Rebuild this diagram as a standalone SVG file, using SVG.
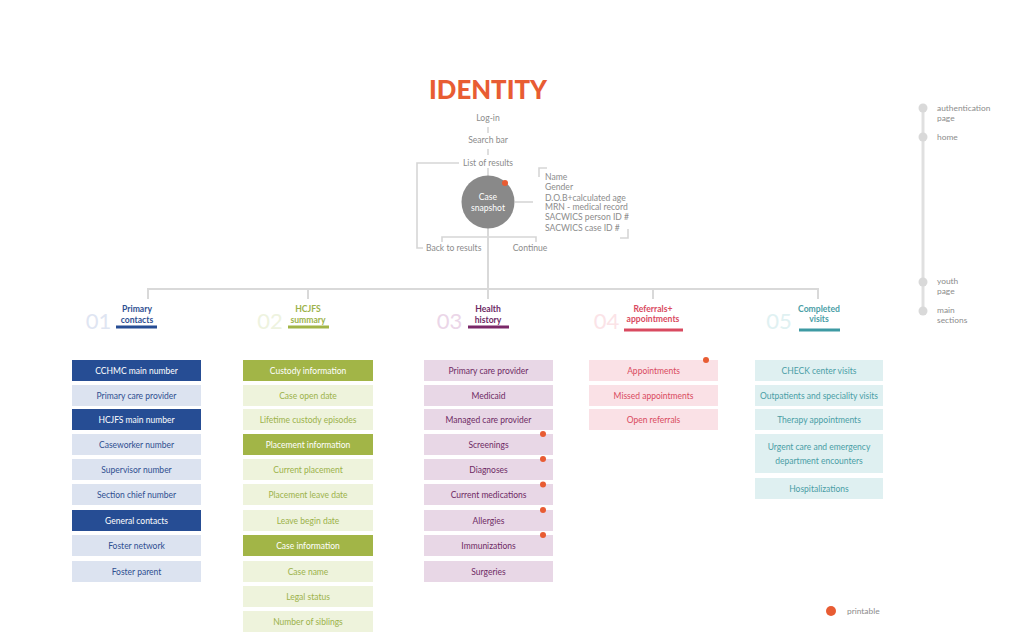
<svg xmlns="http://www.w3.org/2000/svg" width="1026" height="644" viewBox="0 0 1026 644">
<style>
text{font-family:Lato,"Open Sans","Liberation Sans",sans-serif}
.g{fill:#8c8c8c;font-size:8.6px}
.lg{fill:#8c8c8c;font-size:8.4px}
.c{text-anchor:middle}
.bt{font-size:8.5px;text-anchor:middle}
.ht{font-size:8.6px;font-weight:bold;text-anchor:middle}
.num{font-size:22px;text-anchor:middle}
.ln{stroke:#d6d6d6;fill:none;stroke-width:1.6}
.tr{stroke:#d9d9d9;fill:none;stroke-width:2}
.dot{fill:#e85c33}
.b1{fill:#dce3f0}.h1{fill:#264d94}.t1{fill:#2f4f91}
.b2{fill:#eef3dc}.h2{fill:#a2b547}.t2{fill:#9cb24a}
.b3{fill:#e8d7e6}.t3{fill:#6e2a64}
.b4{fill:#fae1e6}.t4{fill:#d94a60}
.b5{fill:#dff0f1}.t5{fill:#4a9ea6}
.w{fill:#ffffff}
</style>
<rect width="1026" height="644" fill="#ffffff"/>

<g id="connectors">
  <line class="ln" x1="488" y1="127" x2="488" y2="133"/>
  <line class="ln" x1="488" y1="149" x2="488" y2="155"/>
  <line class="ln" x1="488" y1="168" x2="488" y2="176"/>
  <path class="ln" d="M459,163 H417 V248 H423"/>
  <line class="ln" x1="515" y1="202" x2="533" y2="202"/>
  <path class="ln" d="M547,168 H539 V177"/>
  <path class="ln" d="M620,238 H628 V229"/>
  <path class="ln" d="M442,242 V237 H536 V242"/>
  <line class="tr" x1="488" y1="228" x2="488" y2="299"/>
  <path class="tr" d="M148,299 V289 H818 V299"/>
  <line class="tr" x1="308" y1="289" x2="308" y2="299"/>
  <line class="tr" x1="653" y1="289" x2="653" y2="299"/>
</g>

<g id="title">
  <text x="488" y="99" text-anchor="middle" font-size="27" font-weight="900" fill="#e85c33" textLength="118" lengthAdjust="spacingAndGlyphs">IDENTITY</text>
</g>

<g id="login"><text class="g c" x="488" y="121">Log-in</text></g>
<g id="search-bar"><text class="g c" x="488" y="143">Search bar</text></g>
<g id="list-of-results"><text class="g c" x="488" y="166">List of results</text></g>
<g id="case-snapshot">
  <circle cx="488" cy="202" r="26.5" fill="#898989"/>
  <text class="c" x="488" y="200" font-size="8.6" fill="#ffffff">Case</text>
  <text class="c" x="488" y="211" font-size="8.6" fill="#ffffff">snapshot</text>
  <circle class="dot" cx="505" cy="183" r="3"/>
</g>
<g id="snapshot-fields">
  <text class="g" x="545" y="180">Name</text>
  <text class="g" x="545" y="190">Gender</text>
  <text class="g" x="545" y="201">D.O.B+calculated age</text>
  <text class="g" x="545" y="210">MRN - medical record</text>
  <text class="g" x="545" y="220">SACWICS person ID #</text>
  <text class="g" x="545" y="231">SACWICS case ID #</text>
</g>
<g id="back-to-results"><text class="g" x="426" y="251">Back to results</text></g>
<g id="continue"><text class="g c" x="530" y="251">Continue</text></g>

<g id="timeline">
  <line x1="923" y1="108" x2="923" y2="311" stroke="#e0e0e0" stroke-width="3"/>
  <circle cx="923" cy="108" r="4.5" fill="#d9d9d9"/>
  <circle cx="923" cy="137" r="4.5" fill="#d9d9d9"/>
  <circle cx="923" cy="282" r="4.5" fill="#d9d9d9"/>
  <circle cx="923" cy="311" r="4.5" fill="#d9d9d9"/>
  <text class="lg" x="937" y="111">authentication</text>
  <text class="lg" x="937" y="121">page</text>
  <text class="lg" x="937" y="140">home</text>
  <text class="lg" x="937" y="284">youth</text>
  <text class="lg" x="937" y="294">page</text>
  <text class="lg" x="937" y="313">main</text>
  <text class="lg" x="937" y="323">sections</text>
</g>

<g id="legend">
  <circle class="dot" cx="831" cy="611" r="5"/>
  <text class="lg" x="847" y="614">printable</text>
</g>

<!-- Section headers -->
<g id="section-01">
  <text class="num" x="98.5" y="329" fill="#dfe5f2">01</text>
  <text class="ht t1" x="137" y="312">Primary</text>
  <text class="ht t1" x="137" y="323">contacts</text>
  <rect x="116" y="325.5" width="41" height="3" fill="#264d94"/>
</g>
<g id="section-02">
  <text class="num" x="270" y="329" fill="#eef3df">02</text>
  <text class="ht t2" x="308" y="312">HCJFS</text>
  <text class="ht t2" x="308" y="323">summary</text>
  <rect x="288" y="325.5" width="41" height="3" fill="#a2b547"/>
</g>
<g id="section-03">
  <text class="num" x="449.5" y="329" fill="#ebd6e8">03</text>
  <text class="ht t3" x="488" y="312">Health</text>
  <text class="ht t3" x="488" y="323">history</text>
  <rect x="468" y="325.5" width="41" height="3" fill="#7a2868"/>
</g>
<g id="section-04">
  <text class="num" x="606.5" y="329" fill="#fbe3e7">04</text>
  <text class="ht t4" x="653" y="312">Referrals+</text>
  <text class="ht t4" x="653" y="322">appointments</text>
  <rect x="624" y="328.5" width="59" height="3" fill="#d94a60"/>
</g>
<g id="section-05">
  <text class="num" x="779" y="329" fill="#e0f1f2">05</text>
  <text class="ht t5" x="819" y="312">Completed</text>
  <text class="ht t5" x="819" y="322">visits</text>
  <rect x="799" y="328.5" width="41" height="3" fill="#3e9aa3"/>
</g>

<!-- Column 1 -->
<g id="c1-cchmc"><rect class="h1" x="72" y="360" width="129" height="21"/><text class="bt w" x="136.5" y="373.5">CCHMC main number</text></g>
<g id="c1-pcp"><rect class="b1" x="72" y="385" width="129" height="21"/><text class="bt t1" x="136.5" y="398.5">Primary care provider</text></g>
<g id="c1-hcjfs"><rect class="h1" x="72" y="409" width="129" height="21"/><text class="bt w" x="136.5" y="422.5">HCJFS main number</text></g>
<g id="c1-caseworker"><rect class="b1" x="72" y="434" width="129" height="21"/><text class="bt t1" x="136.5" y="447.5">Caseworker number</text></g>
<g id="c1-supervisor"><rect class="b1" x="72" y="459" width="129" height="21"/><text class="bt t1" x="136.5" y="472.5">Supervisor number</text></g>
<g id="c1-section-chief"><rect class="b1" x="72" y="484" width="129" height="21"/><text class="bt t1" x="136.5" y="497.5">Section chief number</text></g>
<g id="c1-general"><rect class="h1" x="72" y="510" width="129" height="21"/><text class="bt w" x="136.5" y="523.5">General contacts</text></g>
<g id="c1-foster-network"><rect class="b1" x="72" y="535" width="129" height="21"/><text class="bt t1" x="136.5" y="548.5">Foster network</text></g>
<g id="c1-foster-parent"><rect class="b1" x="72" y="561" width="129" height="21"/><text class="bt t1" x="136.5" y="574.5">Foster parent</text></g>

<!-- Column 2 -->
<g id="c2-custody"><rect class="h2" x="243" y="360" width="130" height="21"/><text class="bt w" x="308" y="373.5">Custody information</text></g>
<g id="c2-open"><rect class="b2" x="243" y="385" width="130" height="21"/><text class="bt t2" x="308" y="398.5">Case open date</text></g>
<g id="c2-lifetime"><rect class="b2" x="243" y="409" width="130" height="21"/><text class="bt t2" x="308" y="422.5">Lifetime custody episodes</text></g>
<g id="c2-placement"><rect class="h2" x="243" y="434" width="130" height="21"/><text class="bt w" x="308" y="447.5">Placement information</text></g>
<g id="c2-current"><rect class="b2" x="243" y="459" width="130" height="21"/><text class="bt t2" x="308" y="472.5">Current placement</text></g>
<g id="c2-leave"><rect class="b2" x="243" y="484" width="130" height="21"/><text class="bt t2" x="308" y="497.5">Placement leave date</text></g>
<g id="c2-begin"><rect class="b2" x="243" y="510" width="130" height="21"/><text class="bt t2" x="308" y="523.5">Leave begin date</text></g>
<g id="c2-case-info"><rect class="h2" x="243" y="535" width="130" height="21"/><text class="bt w" x="308" y="548.5">Case information</text></g>
<g id="c2-case-name"><rect class="b2" x="243" y="561" width="130" height="21"/><text class="bt t2" x="308" y="574.5">Case name</text></g>
<g id="c2-legal"><rect class="b2" x="243" y="586" width="130" height="21"/><text class="bt t2" x="308" y="599.5">Legal status</text></g>
<g id="c2-siblings"><rect class="b2" x="243" y="611" width="130" height="21"/><text class="bt t2" x="308" y="624.5">Number of siblings</text></g>

<!-- Column 3 -->
<g id="c3-pcp"><rect class="b3" x="424" y="360" width="129" height="21"/><text class="bt t3" x="488.5" y="373.5">Primary care provider</text></g>
<g id="c3-medicaid"><rect class="b3" x="424" y="385" width="129" height="21"/><text class="bt t3" x="488.5" y="398.5">Medicaid</text></g>
<g id="c3-managed"><rect class="b3" x="424" y="409" width="129" height="21"/><text class="bt t3" x="488.5" y="422.5">Managed care provider</text></g>
<g id="c3-screenings"><rect class="b3" x="424" y="434" width="129" height="21"/><text class="bt t3" x="488.5" y="447.5">Screenings</text><circle class="dot" cx="543" cy="434" r="3"/></g>
<g id="c3-diagnoses"><rect class="b3" x="424" y="459" width="129" height="21"/><text class="bt t3" x="488.5" y="472.5">Diagnoses</text><circle class="dot" cx="543" cy="459" r="3"/></g>
<g id="c3-medications"><rect class="b3" x="424" y="484" width="129" height="21"/><text class="bt t3" x="488.5" y="497.5">Current medications</text><circle class="dot" cx="543" cy="484.5" r="3"/></g>
<g id="c3-allergies"><rect class="b3" x="424" y="510" width="129" height="21"/><text class="bt t3" x="488.5" y="523.5">Allergies</text><circle class="dot" cx="543" cy="510" r="3"/></g>
<g id="c3-immunizations"><rect class="b3" x="424" y="535" width="129" height="21"/><text class="bt t3" x="488.5" y="548.5">Immunizations</text><circle class="dot" cx="543" cy="535" r="3"/></g>
<g id="c3-surgeries"><rect class="b3" x="424" y="561" width="129" height="21"/><text class="bt t3" x="488.5" y="574.5">Surgeries</text></g>

<!-- Column 4 -->
<g id="c4-appointments"><rect class="b4" x="589" y="360" width="129" height="21"/><text class="bt t4" x="653.5" y="373.5">Appointments</text><circle class="dot" cx="706" cy="360" r="3"/></g>
<g id="c4-missed"><rect class="b4" x="589" y="385" width="129" height="21"/><text class="bt t4" x="653.5" y="398.5">Missed appointments</text></g>
<g id="c4-open"><rect class="b4" x="589" y="409" width="129" height="21"/><text class="bt t4" x="653.5" y="422.5">Open referrals</text></g>

<!-- Column 5 -->
<g id="c5-check"><rect class="b5" x="755" y="360" width="128" height="21"/><text class="bt t5" x="819" y="373.5">CHECK center visits</text></g>
<g id="c5-outpatients"><rect class="b5" x="755" y="385" width="128" height="21"/><text class="bt t5" x="819" y="398.5">Outpatients and speciality visits</text></g>
<g id="c5-therapy"><rect class="b5" x="755" y="409" width="128" height="21"/><text class="bt t5" x="819" y="422.5">Therapy appointments</text></g>
<g id="c5-urgent"><rect class="b5" x="755" y="434" width="128" height="39"/><text class="bt t5" x="819" y="450">Urgent care and emergency</text><text class="bt t5" x="819" y="464">department encounters</text></g>
<g id="c5-hospital"><rect class="b5" x="755" y="478" width="128" height="21"/><text class="bt t5" x="819" y="491.5">Hospitalizations</text></g>
</svg>
